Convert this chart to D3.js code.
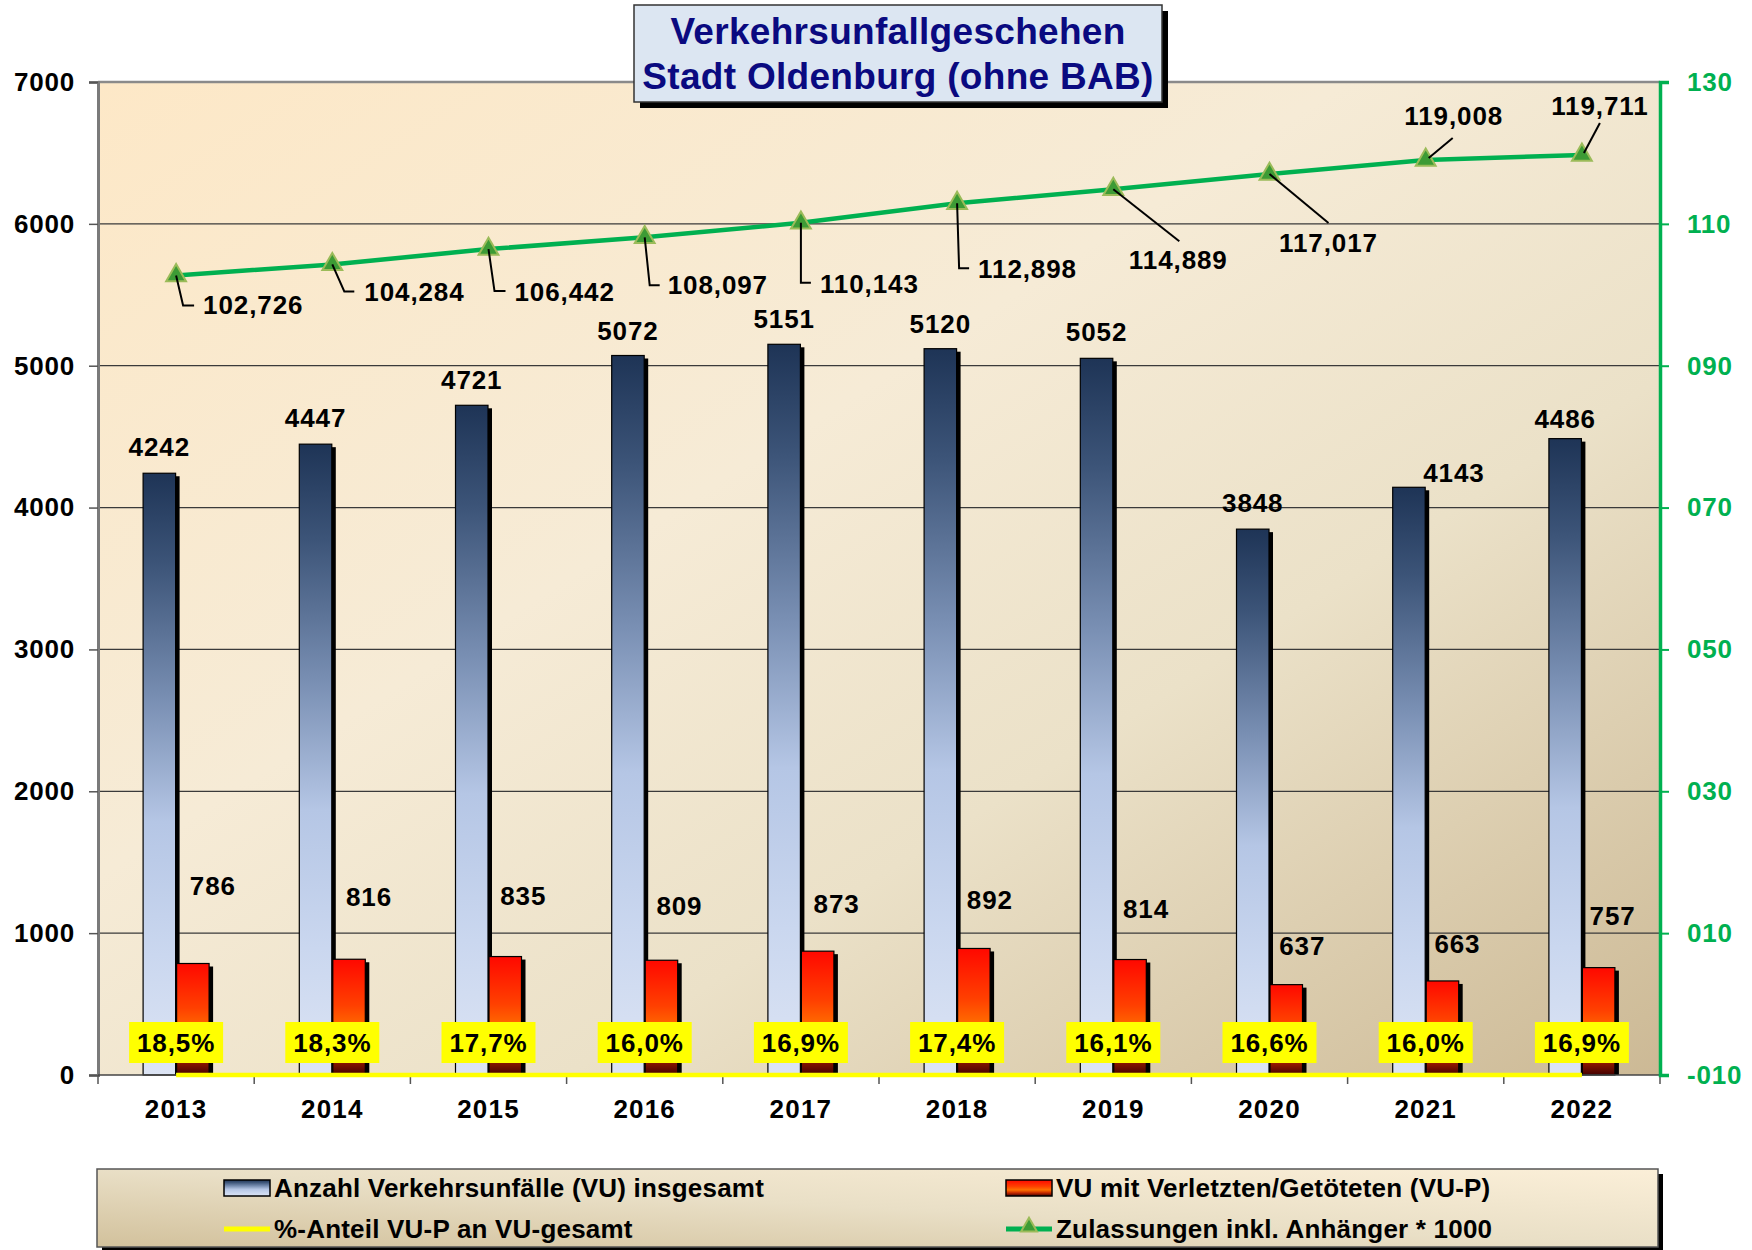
<!DOCTYPE html>
<html><head><meta charset="utf-8">
<script src="https://cdn.jsdelivr.net/npm/d3@7"></script>
<style>
html,body{margin:0;padding:0;background:#fff;}
svg{display:block;font-family:"Liberation Sans",Arial,sans-serif;}
</style></head>
<body>
<svg id="chart" width="1752" height="1250"></svg>
<script>
// ---------- data ----------
const years = ["2013","2014","2015","2016","2017","2018","2019","2020","2021","2022"];
const vuTotal = [4242,4447,4721,5072,5151,5120,5052,3848,4143,4486];
const vuP = [786,816,835,809,873,892,814,637,663,757];
const vuPShare = [18.5,18.3,17.7,16.0,16.9,17.4,16.1,16.6,16.0,16.9];
const zulassungen = [102.726,104.284,106.442,108.097,110.143,112.898,114.889,117.017,119.008,119.711];
const leftTicks = [0,1000,2000,3000,4000,5000,6000,7000];
const rightTicks = [-10,10,30,50,70,90,110,130];
const titleLines = ["Verkehrsunfallgeschehen","Stadt Oldenburg (ohne BAB)"];
const legendLabels = ["Anzahl Verkehrsunfälle (VU) insgesamt","VU mit Verletzten/Getöteten (VU-P)","%-Anteil VU-P an VU-gesamt","Zulassungen inkl. Anhänger * 1000"];

// ---------- layout (label placement as in the original) ----------
const blueLabelOff = [[0,-17],[0,-17],[0,-16],[0,-16],[0,-16],[0,-16],[0,-17],[0,-17],[45,-5],[0,-11]];
const redLabelOff = [[20,-69],[20,-53],[18,-52],[18,-45],[19,-38],[16,-39],[16,-42],[16,-30],[15,-28],[14,-43]];
const zulLabelLayout = [
  {anchor:"start",dx:27,dy:39,lead:[[0,0],[7,30],[18,30]]},
  {anchor:"start",dx:32,dy:37,lead:[[0,0],[12,27],[22,27]]},
  {anchor:"start",dx:26,dy:52,lead:[[0,0],[6,42],[17,42]]},
  {anchor:"start",dx:23,dy:57,lead:[[0,0],[5,48],[15,48]]},
  {anchor:"start",dx:19,dy:70,lead:[[0,0],[0,60],[10,60]]},
  {anchor:"start",dx:21,dy:75,lead:[[0,0],[2,65],[12,65]]},
  {anchor:"middle",dx:65,dy:80,lead:[[0,0],[66,52]]},
  {anchor:"middle",dx:59,dy:78,lead:[[0,0],[59,49]]},
  {anchor:"middle",dx:28,dy:-35,lead:[[3,-2],[27,-22]]},
  {anchor:"middle",dx:18,dy:-40,lead:[[2,-2],[18,-32]]}
];

const W=1752,H=1250;
const P={left:98,right:1660,top:82,bottom:1075};
const svg=d3.select("#chart");
const defs=svg.append("defs");

function lg(id,x1,y1,x2,y2,stops){
  const g=defs.append("linearGradient").attr("id",id).attr("x1",x1).attr("y1",y1).attr("x2",x2).attr("y2",y2);
  stops.forEach(s=>g.append("stop").attr("offset",s[0]).attr("stop-color",s[1]));
}
lg("plotBg",0,0,1,1,[[0,"#fde8c7"],[0.4,"#f6ebd6"],[0.65,"#ebe1c8"],[1,"#ccb995"]]);
lg("legBg",0,1,1,0,[[0,"#d2c19c"],[0.5,"#e9dfc6"],[1,"#fbefd8"]]);
lg("blueBar",0,0,0,1,[[0,"#1e3456"],[0.15,"#3c5478"],[0.38,"#7a90b4"],[0.58,"#b5c6e5"],[0.8,"#cad7ef"],[1,"#dce4f4"]]);
lg("redBar",0,0,0,1,[[0,"#ff0800"],[0.4,"#ff4000"],[0.62,"#ff7200"],[0.8,"#c82a00"],[1,"#420000"]]);

const x=d3.scaleBand().domain(years).range([P.left,P.right]).padding(0);
const x1=d3.scaleBand().domain(["vu","vup"]).range([-33,33]).paddingInner(0.03);
const yL=d3.scaleLinear().domain([0,7000]).range([P.bottom,P.top]);
const yR=d3.scaleLinear().domain([-10,130]).range([P.bottom,P.top]);
const cx=d=>x(d)+x.bandwidth()/2;

// plot background
svg.append("rect").attr("x",P.left).attr("y",P.top).attr("width",P.right-P.left).attr("height",P.bottom-P.top).attr("fill","url(#plotBg)");

// gridlines
svg.append("g").selectAll("line").data(leftTicks.filter(t=>t>0&&t<7000)).join("line")
  .attr("x1",P.left).attr("x2",P.right).attr("y1",d=>yL(d)).attr("y2",d=>yL(d))
  .attr("stroke","#3a3a3a").attr("stroke-width",1.2);
// top border
svg.append("line").attr("x1",P.left).attr("x2",P.right).attr("y1",P.top).attr("y2",P.top).attr("stroke","#8a8a8a").attr("stroke-width",2.5);

// left axis
const gL=svg.append("g").attr("transform",`translate(${P.left},0)`)
  .call(d3.axisLeft(yL).tickValues(leftTicks).tickFormat(d3.format("d")).tickSize(9).tickPadding(14));
gL.select(".domain").attr("stroke","#7a7a7a").attr("stroke-width",3);
gL.selectAll(".tick line").attr("stroke","#555").attr("stroke-width",1.5);
gL.selectAll("text").attr("font-size",26).attr("font-weight","bold").attr("fill","#000").attr("letter-spacing",0.8);

// category axis
const gX=svg.append("g").attr("transform",`translate(0,${P.bottom})`)
  .call(d3.axisBottom(x).tickSize(0).tickPadding(25));
gX.select(".domain").remove();
gX.selectAll("text").attr("font-size",26).attr("font-weight","bold").attr("fill","#000").attr("letter-spacing",1.2).attr("dy","0.71em");
svg.append("g").selectAll("line").data(d3.range(years.length+1)).join("line")
  .attr("x1",i=>P.left+i*x.step()).attr("x2",i=>P.left+i*x.step())
  .attr("y1",P.bottom).attr("y2",P.bottom+9).attr("stroke","#555").attr("stroke-width",1.5);

// bars
const bars=svg.append("g");
years.forEach((yr,i)=>{
  const c=cx(yr);
  const bx=c+x1("vu"), rx=c+x1("vup"), bw=x1.bandwidth();
  const by=yL(vuTotal[i]), ry=yL(vuP[i]);
  bars.append("rect").attr("x",bx+4).attr("y",by+3).attr("width",bw).attr("height",P.bottom-by-3).attr("fill","#000");
  bars.append("rect").attr("x",bx).attr("y",by).attr("width",bw).attr("height",P.bottom-by).attr("fill","url(#blueBar)").attr("stroke","#000").attr("stroke-width",1.2);
  bars.append("rect").attr("x",rx+4).attr("y",ry+3).attr("width",bw).attr("height",P.bottom-ry-3).attr("fill","#000");
  bars.append("rect").attr("x",rx).attr("y",ry).attr("width",bw).attr("height",P.bottom-ry).attr("fill","url(#redBar)").attr("stroke","#000").attr("stroke-width",1.2);
});

// baseline
svg.append("line").attr("x1",P.left).attr("x2",P.right).attr("y1",P.bottom).attr("y2",P.bottom).attr("stroke","#444").attr("stroke-width",1.5);

// yellow share line (plotted on primary axis as fractions)
svg.append("path").datum(years.map((yr,i)=>[cx(yr),yL(vuPShare[i]/100)]))
  .attr("d",d3.line()).attr("fill","none").attr("stroke","#ffff00").attr("stroke-width",4.5);

// right axis
const gR=svg.append("g").attr("transform",`translate(${P.right},0)`)
  .call(d3.axisRight(yR).tickValues(rightTicks).tickFormat(v=>(v<0?"-":"")+String(Math.abs(v)).padStart(3,"0")).tickSize(9).tickPadding(18));
gR.select(".domain").attr("stroke","#00b050").attr("stroke-width",3.5);
gR.selectAll(".tick line").attr("stroke","#00b050").attr("stroke-width",2);
gR.selectAll("text").attr("font-size",26).attr("font-weight","bold").attr("fill","#00b050").attr("letter-spacing",0.8);

// green line
const zpts=years.map((yr,i)=>[cx(yr),yR(zulassungen[i])]);
svg.append("path").datum(zpts).attr("d",d3.line()).attr("fill","none").attr("stroke","#00b050").attr("stroke-width",4.5);
svg.append("g").selectAll("path").data(zpts).join("path")
  .attr("transform",d=>`translate(${d[0]},${d[1]})`)
  .attr("d",d3.symbol(d3.symbolTriangle,170))
  .attr("fill","#3d9b35").attr("stroke","#9bbb59").attr("stroke-width",2);

// labels
const deFmt=d3.formatLocale({decimal:",",thousands:".",grouping:[3],currency:["","€"]});
const fmt3=deFmt.format(".3f"), fmt1=deFmt.format(".1f");
const lab=svg.append("g").attr("font-weight","bold").attr("fill","#000").attr("font-size",26).attr("letter-spacing",0.9);

// leaders + zul labels
zpts.forEach((p,i)=>{
  const L=zulLabelLayout[i];
  lab.append("path").attr("d",d3.line()(L.lead.map(q=>[p[0]+q[0],p[1]+q[1]]))).attr("fill","none").attr("stroke","#000").attr("stroke-width",2);
  lab.append("text").attr("x",p[0]+L.dx).attr("y",p[1]+L.dy).attr("text-anchor",L.anchor).text(fmt3(zulassungen[i]));
});

years.forEach((yr,i)=>{
  const c=cx(yr), bw=x1.bandwidth();
  lab.append("text").attr("x",c+x1("vu")+bw/2+blueLabelOff[i][0]).attr("y",yL(vuTotal[i])+blueLabelOff[i][1]).attr("text-anchor","middle").text(vuTotal[i]);
  lab.append("text").attr("x",c+x1("vup")+bw/2+redLabelOff[i][0]).attr("y",yL(vuP[i])+redLabelOff[i][1]).attr("text-anchor","middle").text(vuP[i]);
  lab.append("rect").attr("x",c-47).attr("y",1022).attr("width",94).attr("height",41).attr("fill","#ffff00");
  lab.append("text").attr("x",c).attr("y",1052).attr("text-anchor","middle").text(fmt1(vuPShare[i])+"%");
});

// title box
const tb={x:634,y:5,w:528,h:97};
svg.append("rect").attr("x",tb.x+6).attr("y",tb.y+6).attr("width",tb.w).attr("height",tb.h).attr("fill","#000");
svg.append("rect").attr("x",tb.x).attr("y",tb.y).attr("width",tb.w).attr("height",tb.h).attr("fill","#dce6f2").attr("stroke","#333").attr("stroke-width",1.5);
svg.append("g").selectAll("text").data(titleLines).join("text")
  .attr("x",tb.x+tb.w/2).attr("y",(d,i)=>44+i*45).attr("text-anchor","middle")
  .attr("font-size",37).attr("font-weight","bold").attr("fill","#0a0a80").attr("letter-spacing",0.3).text(d=>d);

// legend
const lb={x:97,y:1169,w:1561,h:78};
svg.append("rect").attr("x",lb.x+5).attr("y",lb.y+5).attr("width",lb.w).attr("height",lb.h).attr("fill","#000");
svg.append("rect").attr("x",lb.x).attr("y",lb.y).attr("width",lb.w).attr("height",lb.h).attr("fill","url(#legBg)").attr("stroke","#555").attr("stroke-width",1.5);
const lg2=svg.append("g").attr("font-size",26).attr("font-weight","bold").attr("fill","#000").attr("letter-spacing",0.2);
const legPos=[[224,1188],[1006,1188],[224,1229],[1006,1229]];
// swatches
lg2.append("rect").attr("x",legPos[0][0]).attr("y",legPos[0][1]-8).attr("width",46).attr("height",16).attr("fill","url(#blueBar)").attr("stroke","#000").attr("stroke-width",1.5);
lg2.append("rect").attr("x",legPos[1][0]).attr("y",legPos[1][1]-8).attr("width",46).attr("height",16).attr("fill","url(#redBar)").attr("stroke","#000").attr("stroke-width",1.5);
lg2.append("line").attr("x1",legPos[2][0]).attr("x2",legPos[2][0]+46).attr("y1",legPos[2][1]).attr("y2",legPos[2][1]).attr("stroke","#ffff00").attr("stroke-width",5);
lg2.append("line").attr("x1",legPos[3][0]).attr("x2",legPos[3][0]+46).attr("y1",legPos[3][1]).attr("y2",legPos[3][1]).attr("stroke","#00b050").attr("stroke-width",5);
lg2.append("path").attr("transform",`translate(${legPos[3][0]+23},${legPos[3][1]-2})`).attr("d",d3.symbol(d3.symbolTriangle,110)).attr("fill","#3d9b35").attr("stroke","#9bbb59").attr("stroke-width",2);
lg2.selectAll("text").data(legendLabels).join("text")
  .attr("x",(d,i)=>legPos[i][0]+50).attr("y",(d,i)=>legPos[i][1]+9).text(d=>d);
</script>
</body></html>
